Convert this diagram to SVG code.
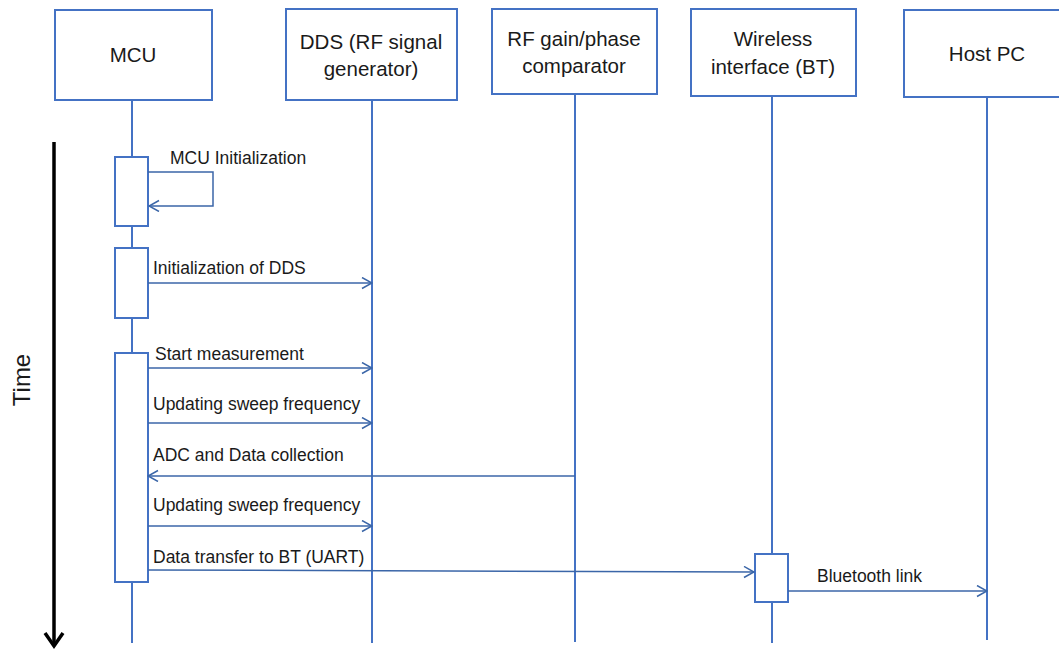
<svg xmlns="http://www.w3.org/2000/svg" width="1059" height="650" viewBox="0 0 1059 650">
<defs>
<style>
.box{fill:#fff;stroke:#4472C4;stroke-width:2}
.life{stroke:#4472C4;stroke-width:2;fill:none}
.act{fill:#fff;stroke:#4472C4;stroke-width:2}
.msg{stroke:#3B66A8;stroke-width:1.5;fill:none;marker-end:url(#arr)}
.hd{font-family:"Liberation Sans",Arial,sans-serif;font-size:20.5px;fill:#1a1a1a;text-anchor:middle}
.lb{font-family:"Liberation Sans",Arial,sans-serif;font-size:17.5px;fill:#1a1a1a}
</style>
<marker id="arr" markerUnits="userSpaceOnUse" markerWidth="12" markerHeight="14" refX="11" refY="6" orient="auto">
<path d="M1,0.5 L11,6 L1,11.5" fill="none" stroke="#3B66A8" stroke-width="1.5"/>
</marker>
</defs>
<rect width="1059" height="650" fill="#fff"/>

<g id="time-axis">
<line x1="54" y1="142" x2="54" y2="646" stroke="#000" stroke-width="3.5"/>
<path d="M45,633 L54,646 L63,633" fill="none" stroke="#000" stroke-width="3.5"/>
<text transform="translate(30,380) rotate(-90)" font-family="Liberation Sans,Arial,sans-serif" font-size="24" fill="#1a1a1a" text-anchor="middle">Time</text>
</g>

<g id="mcu">
<line class="life" x1="132" y1="100" x2="132" y2="643"/>
<rect class="box" x="55" y="10" width="157" height="90"/>
<text class="hd" x="133" y="62">MCU</text>
<rect class="act" x="115" y="157" width="33" height="69"/>
<rect class="act" x="115" y="248" width="33" height="70"/>
<rect class="act" x="115" y="353" width="33" height="229"/>
</g>

<g id="dds">
<line class="life" x1="372" y1="100" x2="372" y2="643"/>
<rect class="box" x="286" y="9" width="171" height="91"/>
<text class="hd" x="371" y="49">DDS (RF signal</text>
<text class="hd" x="371" y="76">generator)</text>
</g>

<g id="rf">
<line class="life" x1="575" y1="94" x2="575" y2="642"/>
<rect class="box" x="492" y="9" width="165" height="85"/>
<text class="hd" x="574" y="46">RF gain/phase</text>
<text class="hd" x="574" y="73">comparator</text>
</g>

<g id="bt">
<line class="life" x1="772" y1="96" x2="772" y2="643"/>
<rect class="box" x="691" y="9" width="165" height="87"/>
<text class="hd" x="773" y="46">Wireless</text>
<text class="hd" x="773" y="74">interface (BT)</text>
<rect class="act" x="755" y="554" width="33" height="48"/>
</g>

<g id="host">
<line class="life" x1="987" y1="97" x2="987" y2="640"/>
<rect class="box" x="904" y="10" width="170" height="87"/>
<text class="hd" x="987" y="61">Host PC</text>
</g>

<g id="connectors">
<path class="msg" d="M148,172 H213 V206 H149"/>
<text class="lb" x="170" y="164">MCU Initialization</text>
<line class="msg" x1="148" y1="283" x2="372" y2="283"/>
<text class="lb" x="153" y="274">Initialization of DDS</text>
<line class="msg" x1="148" y1="368" x2="372" y2="368"/>
<text class="lb" x="155" y="360">Start measurement</text>
<line class="msg" x1="148" y1="423" x2="372" y2="423"/>
<text class="lb" x="153" y="410">Updating sweep frequency</text>
<line class="msg" x1="575" y1="476" x2="148" y2="476"/>
<text class="lb" x="153" y="461">ADC and Data collection</text>
<line class="msg" x1="148" y1="526" x2="372" y2="526"/>
<text class="lb" x="153" y="511">Updating sweep frequency</text>
<line class="msg" x1="148" y1="570" x2="754" y2="572"/>
<text class="lb" x="153" y="563">Data transfer to BT (UART)</text>
<line class="msg" x1="788" y1="591" x2="987" y2="591"/>
<text class="lb" x="817" y="582">Bluetooth link</text>
</g>
</svg>
